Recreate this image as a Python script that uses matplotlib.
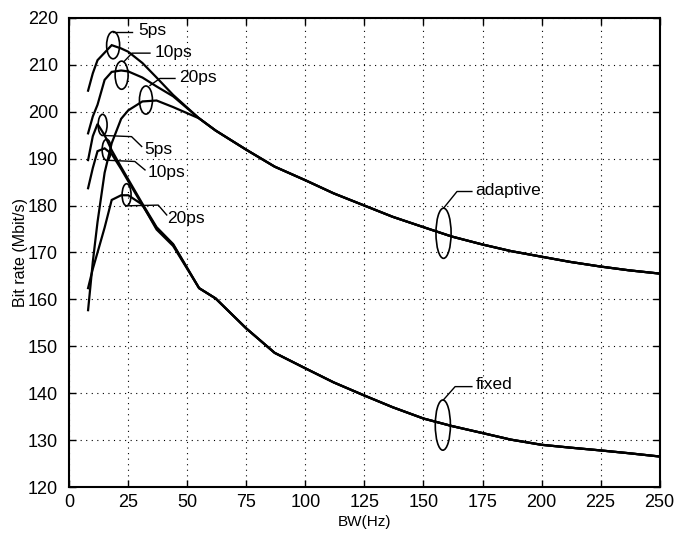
import matplotlib
matplotlib.use("Agg")
import matplotlib.pyplot as plt
from matplotlib.patches import Ellipse

plt.rcParams['font.family'] = ['Liberation Sans', 'DejaVu Sans']

# ---- data ----
bw = [8, 10, 12, 15, 18, 22, 25, 31, 37, 44, 55, 62, 75, 87, 100, 112,
      125, 137, 150, 162, 175, 187, 200, 212, 225, 237, 250]

adaptive_tail = [198.6, 196.0, 191.9, 188.3, 185.4, 182.6, 180.0, 177.6,
                 175.4, 173.4, 171.7, 170.3, 169.1, 168.0, 167.0, 166.2, 165.5]
fixed_tail = [162.4, 160.2, 153.8, 148.6, 145.3, 142.3, 139.5, 137.0, 134.6,
              133.0, 131.5, 130.1, 129.0, 128.4, 127.8, 127.2, 126.5]

adaptive_5ps_head = [204.5, 208.2, 211.0, 212.6, 214.2, 213.5, 212.8, 210.4, 207.3, 203.6]
adaptive_10ps_head = [195.4, 199.0, 201.5, 206.8, 208.5, 208.8, 208.6, 207.3, 205.4, 203.3]
adaptive_20ps_head = [157.7, 168.0, 176.5, 187.0, 193.3, 198.5, 200.3, 202.2, 202.4, 201.0]

fixed_5ps_head = [189.7, 194.8, 197.4, 195.0, 191.8, 188.2, 185.6, 180.4, 175.4, 171.8]
fixed_10ps_head = [183.7, 188.0, 191.6, 192.2, 191.0, 187.8, 185.2, 180.1, 175.2, 171.7]
fixed_20ps_head = [162.4, 166.5, 170.0, 175.3, 181.2, 182.2, 182.2, 180.2, 174.9, 171.4]

series = {
    'adaptive 5ps': adaptive_5ps_head + adaptive_tail,
    'adaptive 10ps': adaptive_10ps_head + adaptive_tail,
    'adaptive 20ps': adaptive_20ps_head + adaptive_tail,
    'fixed 5ps': fixed_5ps_head + fixed_tail,
    'fixed 10ps': fixed_10ps_head + fixed_tail,
    'fixed 20ps': fixed_20ps_head + fixed_tail,
}

x_ticks = [0, 25, 50, 75, 100, 125, 150, 175, 200, 225, 250]
y_ticks = [120, 130, 140, 150, 160, 170, 180, 190, 200, 210, 220]

# annotations: (label, ellipse centre, ellipse w, ellipse h, leader path, text pos)
annotations = [
    ('5ps', (18.6, 214.2), 5.5, 5.8, [(18.6, 217.1), (26.4, 217.1)], (29.3, 217.3)),
    ('10ps', (22.2, 207.8), 5.5, 6.0, [(23.2, 210.7), (26.6, 212.5), (34.2, 212.5)], (36.0, 212.6)),
    ('20ps', (32.5, 202.5), 5.5, 6.0, [(34.2, 205.6), (38.4, 207.1), (44.8, 207.1)], (46.6, 207.2)),
    ('5ps', (14.15, 197.2), 3.8, 4.5, [(14.4, 194.95), (26.4, 194.7), (30.7, 192.6)], (31.8, 191.9)),
    ('10ps', (15.85, 191.9), 3.8, 4.5, [(16.5, 189.65), (27.8, 189.4), (32.1, 187.6)], (33.0, 187.0)),
    ('20ps', (24.3, 182.3), 3.8, 4.7, [(24.3, 179.95), (37.7, 180.1), (41.3, 178.0)], (41.6, 177.2)),
    ('adaptive', (158.5, 174.1), 6.4, 10.7, [(158.5, 179.45), (164.2, 183.0), (170.5, 183.0)], (172.0, 183.3)),
    ('fixed', (158.2, 133.2), 6.4, 10.7, [(158.4, 138.55), (163.4, 141.4), (170.5, 141.4)], (172.0, 141.9)),
]

# ---- figure ----
fig = plt.figure(figsize=(6.85, 5.33), dpi=100)
ax = fig.add_axes([0.101, 0.0863, 0.862, 0.880])

for name, vals in series.items():
    ax.plot(bw, vals, color='black', linewidth=1.6, solid_joinstyle='miter')

for label, c, w, h, path, tpos in annotations:
    ax.add_patch(Ellipse(c, w, h, fill=False, edgecolor='black', linewidth=1.2))
    xs = [p[0] for p in path]
    ys = [p[1] for p in path]
    ax.plot(xs, ys, color='black', linewidth=1.0)
    ax.text(tpos[0], tpos[1], label, fontsize=12.5, ha='left', va='center')

ax.set_xlim(0, 250)
ax.set_ylim(120, 220)
ax.set_xticks(x_ticks)
ax.set_yticks(y_ticks)
ax.tick_params(direction='in', top=True, right=True, labelsize=13, length=5, width=1.0)
ax.tick_params(axis='y', pad=8)
ax.tick_params(axis='x', pad=5)
ax.grid(True, linestyle=(0, (1, 4)), color='black', linewidth=0.8)
for s in ax.spines.values():
    s.set_linewidth(1.5)
ax.set_xlabel('BW(Hz)', fontsize=11, labelpad=3)
ax.set_ylabel('Bit rate (Mbit/s)', fontsize=11.5, labelpad=0)

fig.savefig('out.png', dpi=100)
